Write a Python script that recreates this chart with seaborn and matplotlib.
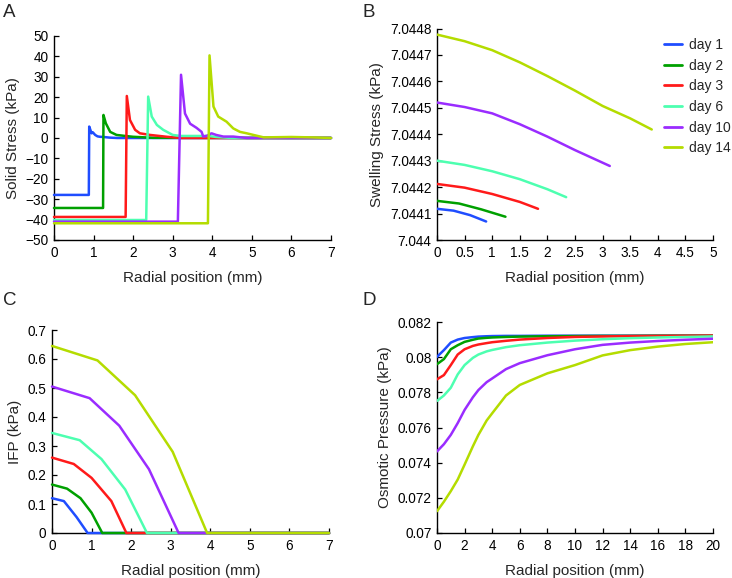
import numpy as np
import pandas as pd
import matplotlib
matplotlib.use("Agg")
import matplotlib.pyplot as plt
import seaborn as sns

sns.set_style("ticks")
plt.rcParams['font.family'] = ['Liberation Sans', 'DejaVu Sans']

days = ["day 1", "day 2", "day 3", "day 6", "day 10", "day 14"]
colors = ["#1f4dff", "#00a000", "#ff1a1a", "#4dffb0", "#9a2cff", "#b4dc00"]

# ---- Panel A: solid stress ----
A_x = {
    "day 1": [0, 0.88, 0.89, 0.95, 0.98, 1.04, 1.1, 1.16, 1.25, 1.4, 1.6, 2.5, 7],
    "day 2": [0, 1.24, 1.25, 1.31, 1.42, 1.58, 1.8, 2.0, 2.5, 7],
    "day 3": [0, 1.81, 1.84, 1.92, 2.05, 2.17, 2.43, 2.85, 3.2, 7],
    "day 6": [0, 2.33, 2.38, 2.47, 2.6, 2.76, 3.0, 3.2, 3.9, 4.1, 4.5, 7],
    "day 10": [0, 3.13, 3.21, 3.31, 3.44, 3.6, 3.73, 3.77, 3.88, 3.98, 4.1, 4.28, 4.53, 4.87, 7],
    "day 14": [0, 3.89, 3.93, 4.03, 4.15, 4.36, 4.53, 4.7, 4.87, 5.04, 5.3, 6.0, 6.5, 7],
}
A_y = {
    "day 1": [-27.9, -27.9, 5.6, 2.3, 2.8, 1.5, 0.8, 0.6, 0.5, 0.2, 0, 0, 0],
    "day 2": [-34.3, -34.3, 11.3, 7.2, 3.0, 1.5, 1.0, 0.6, 0.1, 0],
    "day 3": [-38.7, -38.7, 20.6, 8.8, 4.0, 2.3, 1.5, 0.6, 0, 0],
    "day 6": [-40.2, -40.2, 20.3, 10.5, 6.4, 4.0, 1.5, 1.0, 1.0, 0.5, 0, 0],
    "day 10": [-41.0, -41.0, 31.0, 12.0, 7.0, 5.0, 3.0, 0.7, 1.2, 2.3, 1.5, 0.7, 0.7, 0, 0],
    "day 14": [-41.8, -41.8, 40.5, 15.4, 10.5, 8.0, 4.7, 3.0, 2.3, 1.5, 0.3, 0.5, 0.3, 0],
}

# ---- Panel B: swelling stress ----
B_x = {
    "day 1": [0, 0.3, 0.6, 0.89],
    "day 2": [0, 0.4, 0.8, 1.24],
    "day 3": [0, 0.5, 1.0, 1.5, 1.83],
    "day 6": [0, 0.5, 1.0, 1.5, 2.0, 2.34],
    "day 10": [0, 0.5, 1.0, 1.5, 2.0, 2.5, 3.13],
    "day 14": [0, 0.5, 1.0, 1.5, 2.0, 2.5, 3.0, 3.5, 3.89],
}
B_y = {
    "day 1": [7.044118, 7.044111, 7.044094, 7.04407],
    "day 2": [7.044148, 7.044138, 7.044116, 7.044088],
    "day 3": [7.044212, 7.044198, 7.044174, 7.044144, 7.044118],
    "day 6": [7.0443, 7.044284, 7.04426, 7.04423, 7.044192, 7.044162],
    "day 10": [7.04452, 7.044503, 7.044479, 7.044438, 7.044391, 7.04434, 7.04428],
    "day 14": [7.044777, 7.044752, 7.044718, 7.044672, 7.04462, 7.044565, 7.044507, 7.04446, 7.044418],
}

# ---- Panel C: IFP ----
C_x = {
    "day 1": [0, 0.3, 0.62, 0.9, 7],
    "day 2": [0, 0.38, 0.72, 1.0, 1.27, 7],
    "day 3": [0, 0.55, 1.0, 1.5, 1.88, 7],
    "day 6": [0, 0.7, 1.25, 1.85, 2.4, 7],
    "day 10": [0, 0.95, 1.7, 2.45, 3.2, 7],
    "day 14": [0, 1.15, 2.1, 3.05, 3.92, 7],
}
C_y = {
    "day 1": [0.12, 0.11, 0.055, 0, 0],
    "day 2": [0.167, 0.153, 0.12, 0.07, 0, 0],
    "day 3": [0.26, 0.238, 0.19, 0.11, 0, 0],
    "day 6": [0.345, 0.32, 0.255, 0.15, 0, 0],
    "day 10": [0.505, 0.465, 0.37, 0.22, 0, 0],
    "day 14": [0.645, 0.595, 0.475, 0.28, 0, 0],
}

# ---- Panel D: osmotic pressure ----
D_x = [0, 0.5, 1, 1.5, 2, 2.6, 3, 3.6, 4, 5, 6, 8, 10, 12, 14, 16, 18, 20]
D_y = {
    "day 1": [0.08002, 0.0804, 0.08083, 0.0810, 0.08109, 0.08114, 0.08117, 0.08119, 0.0812, 0.08121, 0.08121, 0.08122, 0.08122, 0.08122, 0.08122, 0.08122, 0.08122, 0.08122],
    "day 2": [0.0796, 0.07989, 0.08045, 0.08068, 0.08087, 0.08099, 0.08106, 0.0811, 0.08112, 0.08115, 0.08117, 0.08119, 0.0812, 0.08121, 0.08121, 0.08122, 0.08122, 0.08122],
    "day 3": [0.07874, 0.07898, 0.07955, 0.08015, 0.08045, 0.08064, 0.08072, 0.0808, 0.08085, 0.08093, 0.081, 0.08109, 0.08115, 0.08118, 0.0812, 0.08121, 0.08122, 0.08123],
    "day 6": [0.07751, 0.07782, 0.07826, 0.07902, 0.07955, 0.07996, 0.08015, 0.08033, 0.08041, 0.08057, 0.08068, 0.08083, 0.08094, 0.08102, 0.08108, 0.08112, 0.08115, 0.08118],
    "day 10": [0.07464, 0.07505, 0.07558, 0.07625, 0.077, 0.07772, 0.07813, 0.07858, 0.07879, 0.07932, 0.07966, 0.08011, 0.08045, 0.0807, 0.08083, 0.08092, 0.08099, 0.08105],
    "day 14": [0.07124, 0.07178, 0.07238, 0.07304, 0.07389, 0.07493, 0.07558, 0.0764, 0.07681, 0.07782, 0.07842, 0.07908, 0.07955, 0.0801, 0.0804, 0.0806, 0.08075, 0.08085],
}

A_yticks = list(range(-50, 51, 10))
A_xticks = list(range(0, 8))
B_yticks = [7.044, 7.0441, 7.0442, 7.0443, 7.0444, 7.0445, 7.0446, 7.0447, 7.0448]
B_yticklabels = ["7.044", "7.0441", "7.0442", "7.0443", "7.0444", "7.0445", "7.0446", "7.0447", "7.0448"]
B_xticks = [0, 0.5, 1, 1.5, 2, 2.5, 3, 3.5, 4, 4.5, 5]
B_xticklabels = ["0", "0.5", "1", "1.5", "2", "2.5", "3", "3.5", "4", "4.5", "5"]
C_yticks = [0, 0.1, 0.2, 0.3, 0.4, 0.5, 0.6, 0.7]
C_yticklabels = ["0", "0.1", "0.2", "0.3", "0.4", "0.5", "0.6", "0.7"]
D_yticks = [0.07, 0.072, 0.074, 0.076, 0.078, 0.08, 0.082]
D_yticklabels = ["0.07", "0.072", "0.074", "0.076", "0.078", "0.08", "0.082"]
D_xticks = list(range(0, 21, 2))


def long_df(xs, ys):
    rows = []
    for d in days:
        xv = xs[d] if isinstance(xs, dict) else xs
        for x, y in zip(xv, ys[d]):
            rows.append((d, x, y))
    return pd.DataFrame(rows, columns=["day", "x", "y"])


palette = dict(zip(days, colors))
fig = plt.figure(figsize=(7.32, 5.78), dpi=100)
W, H = 732, 578


def add_ax(l, r, t, b):
    return fig.add_axes([l / W, 1 - b / H, (r - l) / W, (b - t) / H])


axA = add_ax(54, 331, 36, 240)
axB = add_ax(437, 713, 28.5, 240)
axC = add_ax(52, 329, 330, 533)
axD = add_ax(437, 713, 322, 533)

lw = 1.8
for ax, df, clip in [(axA, long_df(A_x, A_y), False), (axB, long_df(B_x, B_y), True),
                     (axC, long_df(C_x, C_y), False), (axD, long_df(D_x, D_y), True)]:
    sns.lineplot(data=df, x="x", y="y", hue="day", hue_order=days, palette=palette,
                 estimator=None, sort=False, linewidth=lw, ax=ax, legend=(ax is axB))
    for ln in ax.get_lines():
        ln.set_clip_on(clip)
        ln.set_zorder(3)

axA.set_xlim(0, 7); axA.set_ylim(-50, 50)
axA.set_xticks(A_xticks); axA.set_yticks(A_yticks)
axA.set_ylabel("Solid Stress (kPa)")

axB.set_xlim(0, 5); axB.set_ylim(7.044, 7.0448)
axB.set_xticks(B_xticks); axB.set_xticklabels(B_xticklabels)
axB.set_yticks(B_yticks); axB.set_yticklabels(B_yticklabels)
axB.set_ylabel("Swelling Stress (kPa)")

axC.set_xlim(0, 7); axC.set_ylim(0, 0.7)
axC.set_xticks(A_xticks)
axC.set_yticks(C_yticks); axC.set_yticklabels(C_yticklabels)
axC.set_ylabel("IFP (kPa)")

axD.set_xlim(0, 20); axD.set_ylim(0.07, 0.082)
axD.set_xticks(D_xticks)
axD.set_yticks(D_yticks); axD.set_yticklabels(D_yticklabels)
axD.set_ylabel("Osmotic Pressure (kPa)")

for ax in [axA, axB, axC, axD]:
    ax.set_xlabel("Radial position (mm)", fontsize=11, labelpad=8)
    ax.yaxis.label.set_size(11)
    sns.despine(ax=ax)
    for s in ["left", "bottom"]:
        ax.spines[s].set_linewidth(1.0)
        ax.spines[s].set_color("black")
    ax.tick_params(direction="in", length=3.5, width=0.9, labelsize=9.8, pad=4, colors="black")
    ax.set_facecolor("white")

leg = axB.legend(loc="upper left", bbox_to_anchor=(664 / W, 1 - 38 / H),
                 bbox_transform=fig.transFigure, frameon=False, fontsize=10,
                 handlelength=1.3, handletextpad=0.5, labelspacing=0.48,
                 borderpad=0, borderaxespad=0)
for h in leg.get_lines():
    h.set_linewidth(2.0)

for lab, x, y in [("A", 3, 4), ("B", 363, 4), ("C", 3, 292), ("D", 363, 292)]:
    fig.text(x / W, 1 - y / H, lab, fontsize=13.5, ha="left", va="top")

fig.savefig("out.png", dpi=100)
